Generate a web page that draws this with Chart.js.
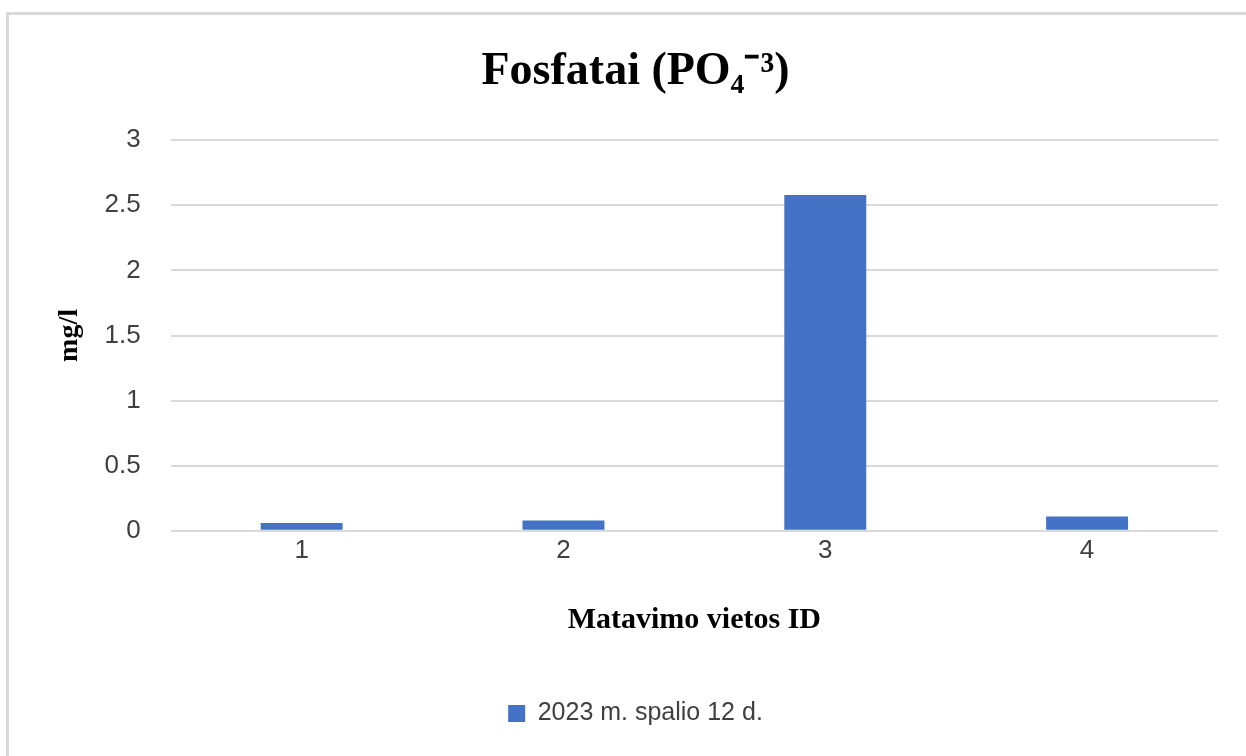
<!DOCTYPE html>
<html>
<head>
<meta charset="utf-8">
<script src="https://cdn.jsdelivr.net/npm/chart.js@4"></script>
<style>
  body { margin: 0; background: #fff; }
  #wrap { position: absolute; left: 0; top: 0; width: 1246px; height: 756px; }
  #frame { position: absolute; left: 6px; top: 12px; right: 0; bottom: 0;
           border-left: 3px solid #d9d9d9; border-top: 3px solid #d9d9d9; }
</style>
</head>
<body>
<div id="wrap">
  <div id="frame"></div>
  <canvas id="chart" width="1246" height="756"></canvas>
</div>
<script>
// chart data
const sites = ['1', '2', '3', '4'];
const phosphate = [0.06, 0.08, 2.58, 0.11];
const seriesName = '2023 m. spalio 12 d.';
const chartTitle = 'Fosfatai (PO\u2084\u207B\u00B3)';
const xTitle = 'Matavimo vietos ID';
const yTitle = 'mg/l';

const serif = '"Liberation Serif", "Times New Roman", serif';
const sans = '"Liberation Sans", "Open Sans", sans-serif';

const config = {
  type: 'bar',
  data: {
    labels: sites,
    datasets: [{
      label: seriesName,
      data: phosphate,
      backgroundColor: '#4472C4',
      borderWidth: 0,
      categoryPercentage: 1,
      barPercentage: 0.313
    }]
  },
  options: {
    responsive: false,
    animation: false,
    layout: { padding: { left: 53, right: 28, top: 0, bottom: 20 } },
    plugins: {
      title: {
        display: true,
        text: chartTitle,
        color: '#000',
        font: { family: serif, size: 46, weight: 'bold' },
        padding: { top: 45, bottom: 40 }
      },
      legend: {
        position: 'bottom',
        labels: {
          color: '#404040',
          font: { family: sans, size: 25 },
          boxWidth: 17,
          boxHeight: 17,
          padding: 10
        }
      },
      tooltip: { enabled: false }
    },
    scales: {
      x: {
        grid: { display: false, drawTicks: false },
        border: { display: false },
        ticks: { color: '#404040', font: { family: sans, size: 26 }, padding: 4 },
        title: {
          display: true,
          text: xTitle,
          color: '#000',
          font: { family: serif, size: 30, weight: 'bold' },
          padding: { top: 32, bottom: 53 }
        }
      },
      y: {
        min: 0,
        max: 3,
        ticks: {
          stepSize: 0.5,
          color: '#404040',
          font: { family: sans, size: 26 },
          padding: 30,
          callback: v => String(v)
        },
        grid: { color: '#d9d9d9', lineWidth: 2, drawTicks: false },
        border: { display: false },
        title: {
          display: true,
          text: yTitle,
          color: '#000',
          font: { family: serif, size: 28, weight: 'bold' },
          padding: { top: 0, bottom: -12 }
        }
      }
    }
  }
};

new Chart(document.getElementById('chart'), config);
</script>
</body>
</html>
